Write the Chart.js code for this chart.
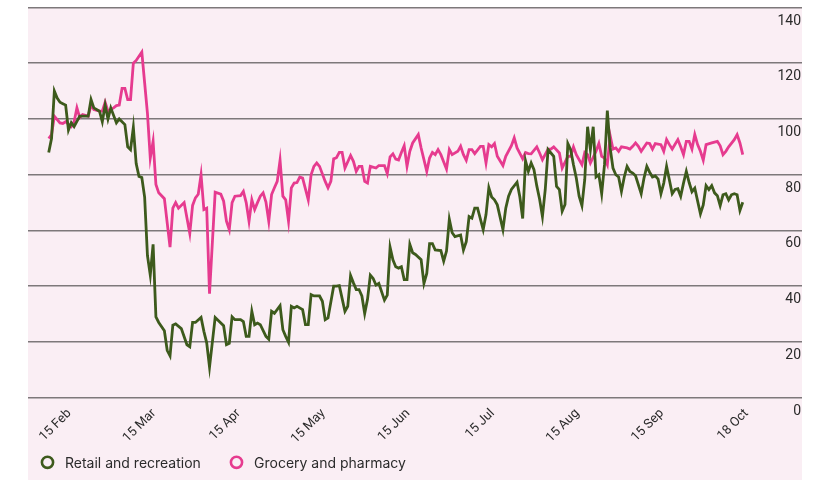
<!DOCTYPE html>
<html>
<head>
<meta charset="utf-8">
<script src="https://cdn.jsdelivr.net/npm/chart.js@4.4.0/dist/chart.umd.min.js"></script>
<style>
  html, body { margin: 0; padding: 0; background: #ffffff; }
  #wrap { position: relative; width: 821px; height: 480px; }
  canvas { display: block; }
</style>
</head>
<body>
<div id="wrap"><canvas id="chart" width="821" height="480"></canvas></div>
<script>
// Days are counted from 15 Feb (day 0) to 18 Oct (day 246).
const xTickDays = [0, 30, 60, 90, 120, 150, 180, 210, 240];
const xTickLabels = ['15 Feb', '15 Mar', '15 Apr', '15 May', '15 Jun', '15 Jul', '15 Aug', '15 Sep', '18 Oct'];
const yTicks = [0, 20, 40, 60, 80, 100, 120, 140];
const seriesNames = ['Retail and recreation', 'Grocery and pharmacy'];
const seriesColors = ['#3d5a1c', '#e63b8f'];

const retailDays = [
  0, 1, 2, 3, 4, 5, 6, 7, 8, 9, 11, 13, 14, 15, 16, 18, 19, 20, 21, 22, 24, 25, 27, 28, 29,
  30, 31, 32, 33, 34, 35, 36, 37, 38, 39, 41, 42, 43, 44, 45, 47, 49, 50, 51, 52, 54, 55, 56, 57,
  59, 60, 62, 63, 64, 65, 66, 68, 69, 70, 71, 72, 73, 74, 75, 77, 78, 79, 80, 82, 83, 84, 85,
  86, 87, 88, 90, 91, 92, 93, 94, 96, 97, 98, 99, 101, 102, 103, 105, 106, 107, 108, 109, 110,
  111, 112, 113, 114, 115, 116, 117, 119, 120, 121, 122, 123, 124, 125, 126, 127, 128, 129, 130,
  132, 133, 134, 135, 136, 137, 139, 140, 141, 142, 143, 144, 146, 147, 148, 149, 150, 151, 152,
  154, 155, 156, 157, 158, 159, 161, 162, 163, 164, 166, 167, 168, 169, 170, 171, 172, 173, 174,
  175, 176, 177, 178, 179, 180, 181, 182, 183, 184, 185, 186, 187, 188, 189, 190, 191, 192, 193,
  194, 195, 196, 197, 198, 199, 200, 201, 202, 203, 204, 205, 206, 207, 208, 210, 211, 212, 213,
  214, 215, 216, 217, 218, 219, 220, 221, 222, 223, 224, 225, 226, 227, 228, 229, 231, 232, 233,
  234, 235, 236, 237, 238, 239, 240, 241, 242, 243, 244, 245, 246
];
const retailValues = [
  88, 93, 110, 107.5, 106, 105.5, 105, 96, 98.7, 97.3, 101, 101, 101, 107, 104, 102.8, 99, 105, 100, 104, 98.6, 100, 98, 90, 89,
  97, 84, 79.4, 79, 72, 51, 44, 55, 29, 27, 24, 17, 15, 26, 26.5, 24.8, 19, 18.3, 27, 27, 28.8, 23.8, 19.7, 11,
  28.8, 27.8, 25.8, 19, 19.5, 29, 28, 28, 27.3, 22, 22, 31, 26.2, 26.8, 26.2, 22, 21, 31, 30.3, 33, 24.4, 22, 19.9,
  32.8, 32.2, 32.8, 31.6, 26.2, 26.2, 37, 36.5, 36.5, 34.6, 28, 28.6, 40, 40, 40.2, 31, 32.8, 43.8, 41.2, 38.8, 38.8,
  36.5, 30.2, 35.3, 44, 42.8, 40.4, 41, 35, 36.8, 54, 49.5, 47, 46.5, 47, 42.4, 42.4, 55, 52, 51.4,
  49.5, 41, 44.6, 55.3, 55.3, 53, 52.8, 49, 52.6, 64, 59.2, 57.8, 58.4, 53, 56, 65, 64.4, 68, 68,
  60.3, 65.7, 75.3, 72, 71, 69.2, 60.3, 68, 72.3, 74.7, 77.3, 72, 64.3, 85, 81.2, 84.2, 81.8, 76, 71.2,
  65, 74.7, 89, 87.8, 86.6, 75.8, 74.7, 66.9, 69.3, 91.2, 89, 83.6, 78.8, 72.3, 68.9, 78.3, 97.2, 89, 97.2,
  79.2, 80, 73.2, 83.6, 103, 89.6, 82.4, 80, 79.2, 74, 79.2, 83, 81.2, 80.6, 79.6, 73.2, 78.8, 83, 80.9,
  79.2, 79.6, 78.4, 73.2, 77, 83, 78.1, 73.2, 74.7, 75, 72.3, 77, 81.2, 77.2, 73.9, 75.2, 66, 69.2, 76.1,
  74.7, 76.1, 73.5, 72.5, 68.9, 72.8, 73.2, 71, 72.8, 73.2, 72.8, 67.2, 70.1
];

const groceryDays = [
  0, 1, 2, 4, 5, 6, 8, 9, 10, 11, 12, 14, 15, 16, 18, 19, 20, 21, 23, 24, 25, 26, 27, 28, 29,
  30, 31, 32, 33, 34, 35, 36, 37, 38, 39, 41, 43, 44, 45, 46, 48, 49, 50, 51, 52, 53, 54, 55, 56, 57,
  59, 61, 62, 63, 64, 65, 66, 68, 69, 70, 71, 72, 73, 74, 75, 76, 77, 78, 79, 80, 81, 82, 83, 84, 85,
  86, 87, 88, 89, 90, 92, 93, 94, 95, 96, 98, 99, 100, 101, 102, 103, 104, 105, 107, 108, 109, 110,
  111, 112, 113, 114, 116, 117, 119, 120, 121, 122, 123, 124, 125, 126, 127, 128, 129, 131, 132, 133,
  134, 135, 136, 137, 138, 139, 141, 142, 143, 145, 146, 147, 148, 149, 150, 151, 153, 154, 155, 156,
  157, 158, 159, 161, 162, 164, 165, 166, 168, 169, 170, 171, 173, 174, 175, 177, 178, 179, 181, 182,
  184, 185, 186, 187, 189, 190, 191, 192, 194, 195, 196, 197, 198, 199, 200, 201, 202, 203, 205, 206,
  207, 208, 209, 210, 212, 213, 214, 215, 217, 218, 219, 220, 221, 223, 224, 225, 226, 227, 228, 229,
  230, 231, 232, 233, 235, 237, 238, 239, 240, 241, 243, 244, 245, 246
];
const groceryValues = [
  93, 94.4, 101, 98.6, 98.4, 99, 97.3, 99, 104, 100.5, 101.6, 101, 105, 103.4, 102.8, 102.8, 106, 102.8, 104, 104.8, 105, 111, 111, 107, 107,
  120, 121, 122.5, 124, 113, 102, 86, 92, 76.5, 73.5, 71.4, 54, 68, 70, 68, 70, 64.5, 59, 69, 71.7, 73, 80, 67.5, 68, 37.3,
  73.7, 73, 70.5, 63.3, 60.3, 70, 72.3, 72.5, 74, 70, 63.3, 71, 67.5, 70, 72.3, 73.5, 70.2, 63.3, 72.9, 75.3, 77.6, 85.2, 72.3, 71, 63.3,
  75.3, 77, 77.2, 79.2, 78.8, 71, 80, 83, 84.2, 83, 77.6, 75.3, 77.6, 85.7, 86.1, 88, 88, 82.4, 86.9, 84.8, 81.2, 83,
  83, 77.6, 77, 83, 82.4, 83.3, 83.3, 80.4, 86.4, 87.5, 85.6, 85.3, 88, 90.4, 83, 88.4, 91.4, 94.4, 89.6, 85.4,
  81.2, 86, 88, 87.2, 89, 87.2, 82, 89, 87.2, 88.4, 90.2, 87.2, 85.2, 89, 89, 87.6, 90.2, 90.2, 84.2, 90.8,
  90, 91.2, 86.6, 83.3, 86.6, 90.4, 93.2, 89.6, 85.7, 88, 87.6, 87.5, 90, 87.8, 85.4, 89.2, 89.2, 90, 87.8, 82.4,
  86.6, 86.6, 90, 87.2, 83.6, 88, 87.2, 84.2, 88.4, 91.2, 86.6, 86, 83.6, 94, 89.2, 89.6, 88.4, 90, 89.6, 89.2,
  90.2, 91.4, 90.2, 88.4, 91.4, 91.2, 89.2, 91.2, 90.8, 88.4, 92.6, 90.8, 89.2, 92.6, 90, 87.2, 92, 92, 89.2, 94.4,
  90.8, 88.4, 85.2, 90.8, 91.4, 92, 90.4, 87.2, 88.4, 90, 92.6, 94.4, 91.4, 87.2
];

const toPoints = (days, values) => days.map((d, i) => ({ x: d, y: values[i] }));

const TICK_FONT = 'Roboto, "Noto Sans", sans-serif';
const LEGEND_FONT = 'Inter, Roboto, sans-serif';
const TEXT = '#2b2b2b';

// Pale pink panel behind the plot, axis labels and legend.
const panelBackground = {
  id: 'panelBackground',
  beforeDraw(chart) {
    const { ctx, chartArea } = chart;
    ctx.save();
    ctx.fillStyle = '#faeef4';
    ctx.fillRect(chartArea.left, chartArea.top, chartArea.right - chartArea.left, chart.height - chartArea.top);
    ctx.restore();
  }
};

// Axis labels: dates slanted under the plot, values tucked under each grid line on the right.
const axisLabels = {
  id: 'axisLabels',
  afterDraw(chart) {
    const { ctx, chartArea } = chart;
    const xs = chart.scales.x;
    const ys = chart.scales.y;
    ctx.save();
    ctx.fillStyle = TEXT;

    ctx.font = '13px ' + TICK_FONT;
    ctx.textAlign = 'right';
    ctx.textBaseline = 'alphabetic';
    xTickDays.forEach((d, i) => {
      const px = xs.getPixelForValue(d);
      ctx.save();
      ctx.translate(px + 23, chartArea.bottom + 16);
      ctx.rotate(-Math.PI / 4);
      ctx.fillText(xTickLabels[i], 0, 0);
      ctx.restore();
    });

    ctx.font = '14px ' + TICK_FONT;
    ctx.textAlign = 'right';
    yTicks.forEach(v => {
      const py = ys.getPixelForValue(v);
      ctx.fillText(String(v), chartArea.right - 1, py + 17);
    });
    ctx.restore();
  }
};

// Hollow-circle legend along the bottom-left.
const circleLegend = {
  id: 'circleLegend',
  afterDraw(chart) {
    const { ctx } = chart;
    const items = [
      { cx: 47.5, tx: 65 },
      { cx: 236.5, tx: 254 }
    ];
    ctx.save();
    items.forEach((it, i) => {
      ctx.beginPath();
      ctx.arc(it.cx, 462.3, 5.6, 0, Math.PI * 2);
      ctx.lineWidth = 2.6;
      ctx.strokeStyle = seriesColors[i];
      ctx.stroke();
      ctx.fillStyle = TEXT;
      ctx.font = '14px ' + LEGEND_FONT;
      ctx.textBaseline = 'alphabetic';
      ctx.textAlign = 'left';
      ctx.fillText(seriesNames[i], it.tx, 468);
    });
    ctx.restore();
  }
};

new Chart(document.getElementById('chart'), {
  type: 'line',
  data: {
    datasets: [
      {
        label: seriesNames[0],
        data: toPoints(retailDays, retailValues),
        borderColor: seriesColors[0],
        backgroundColor: 'transparent',
        borderWidth: 2.8,
        pointRadius: 0,
        tension: 0,
        fill: false
      },
      {
        label: seriesNames[1],
        data: toPoints(groceryDays, groceryValues),
        borderColor: seriesColors[1],
        backgroundColor: 'transparent',
        borderWidth: 2.8,
        pointRadius: 0,
        tension: 0,
        fill: false
      }
    ]
  },
  options: {
    responsive: false,
    animation: false,
    devicePixelRatio: 1,
    layout: { padding: { left: 28, right: 17, top: 7.5, bottom: 0 } },
    plugins: {
      legend: { display: false },
      tooltip: { enabled: false }
    },
    scales: {
      x: {
        type: 'linear',
        min: -7.34,
        max: 267,
        grid: { display: false },
        border: { display: false },
        afterBuildTicks(scale) {
          scale.ticks = xTickDays.map(v => ({ value: v }));
        },
        afterFit(scale) {
          scale.paddingLeft = 0;
          scale.paddingRight = 0;
          scale.height = 82.3;
        },
        ticks: { display: false }
      },
      y: {
        position: 'right',
        min: 0,
        max: 140,
        afterBuildTicks(scale) {
          scale.ticks = yTicks.map(v => ({ value: v }));
        },
        afterFit(scale) {
          scale.paddingTop = 0;
          scale.paddingBottom = 0;
          scale.width = 2;
        },
        grid: { color: '#7d787a', lineWidth: 1.5, drawTicks: false },
        border: { display: false },
        ticks: { display: false }
      }
    }
  },
  plugins: [panelBackground, axisLabels, circleLegend]
});
</script>
</body>
</html>
